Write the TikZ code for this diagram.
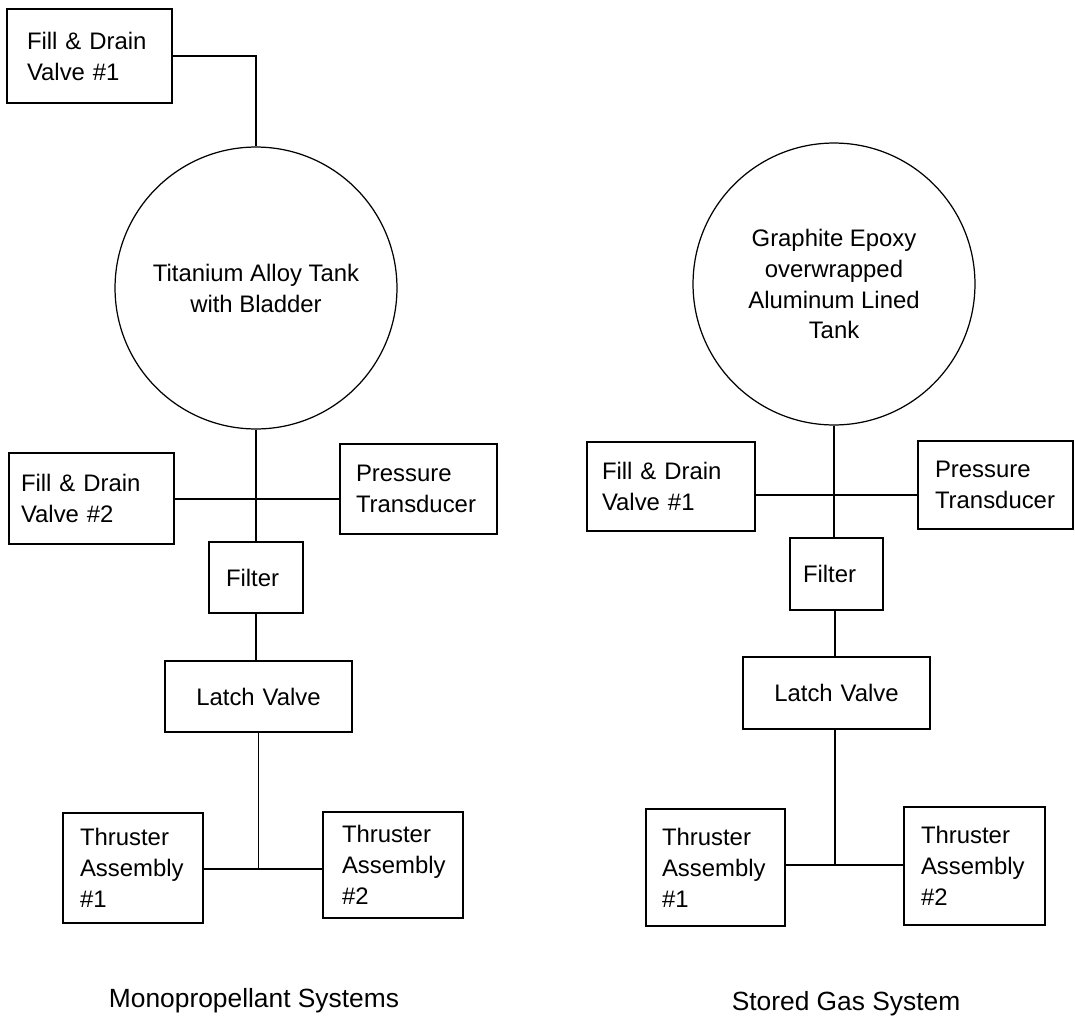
\documentclass[tikz,border=0pt]{standalone}
\usepackage{fontspec}
\setmainfont{Liberation Sans}
\tikzset{part/.style 2 args={draw, line width=0.7pt, rectangle, align=left,
		inner xsep=#1, inner ysep=0pt, text width=#2},
	tank/.style={draw, circle, line width=0.7pt, minimum size=5.64cm,
		align=center, inner sep=0pt},
	pipe/.style={line width=0.7pt},
	caption/.style={font=\fontsize{15}{18}\selectfont}}

\begin{document}
\begin{tikzpicture}[x=0.02cm, y=-0.02cm, font=\fontsize{13.6}{17.6}\selectfont]
	\useasboundingbox (0,0) rectangle (1075,1021);
	% monopropellant side
	\node[part={0.40cm}{2.50cm}, minimum height=1.88cm] (fdA) at (89.5,56) {Fill \& Drain\\Valve \#1};
	\node[tank] (tankA) at (256,288) {Titanium Alloy Tank\\with Bladder};
	\node[part={0.24cm}{2.82cm}, minimum height=1.82cm] (fdB) at (91.5,498.5) {Fill \& Drain\\Valve \#2};
	\node[part={0.32cm}{2.50cm}, minimum height=1.80cm] (ptA) at (418.5,489) {Pressure\\Transducer};
	\node[part={0.34cm}{1.20cm}, minimum height=1.42cm] (filA) at (256,577.5) {Filter};
	\node[part={0.54cm}{2.66cm}, align=center, minimum height=1.42cm] (latchA) at (258.5,696.5) {Latch Valve};
	\node[part={0.34cm}{2.12cm}, minimum height=2.20cm] (thA1) at (133,868) {Thruster\\Assembly\\\#1};
	\node[part={0.38cm}{2.04cm}, minimum height=2.12cm] (thA2) at (393,865) {Thruster\\Assembly\\\#2};
	\coordinate (teeA) at (256,499);
	\coordinate (forkA) at (258,869);
	\draw[pipe] (fdA.east) -| (tankA.north);
	\draw[pipe] (tankA.south) -- (filA.north);
	\draw[pipe] (fdB.east |- teeA) -- (ptA.west |- teeA);
	\draw[pipe] (filA.south) -- (filA.south |- latchA.north);
	\draw[pipe] (latchA.south) -- (latchA.south |- forkA);
	\draw[pipe] (thA1.east |- forkA) -- (thA2.west |- forkA);
	% stored gas side
	\node[tank] (tankB) at (834,284) {Graphite Epoxy\\overwrapped\\Aluminum Lined\\Tank};
	\node[part={0.30cm}{2.76cm}, minimum height=1.78cm] (fdC) at (671,486.5) {Fill \& Drain\\Valve \#1};
	\node[part={0.34cm}{2.42cm}, minimum height=1.76cm] (ptB) at (995.5,485) {Pressure\\Transducer};
	\node[part={0.26cm}{1.34cm}, minimum height=1.44cm] (filB) at (836.5,574) {Filter};
	\node[part={0.54cm}{2.66cm}, align=center, minimum height=1.44cm] (latchB) at (836.5,693) {Latch Valve};
	\node[part={0.32cm}{2.14cm}, minimum height=2.34cm] (thB1) at (715.5,867.5) {Thruster\\Assembly\\\#1};
	\node[part={0.34cm}{2.14cm}, minimum height=2.36cm] (thB2) at (974.5,866) {Thruster\\Assembly\\\#2};
	\coordinate (teeB) at (834,495);
	\coordinate (forkB) at (835,865);
	\draw[pipe] (tankB.south) -- (tankB.south |- filB.north);
	\draw[pipe] (fdC.east |- teeB) -- (ptB.west |- teeB);
	\draw[pipe] (filB.south -| forkB) -- (latchB.north -| forkB);
	\draw[pipe] (latchB.south -| forkB) -- (forkB);
	\draw[pipe] (thB1.east |- forkB) -- (thB2.west |- forkB);
	% captions
	\node[caption] (capA) at (254,1001) {Monopropellant Systems};
	\node[caption] (capB) at (846,1004) {Stored Gas System};
\end{tikzpicture}
\end{document}
